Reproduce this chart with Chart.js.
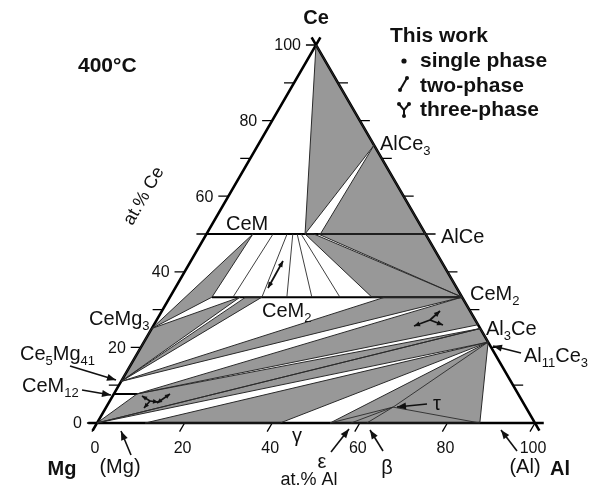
<!DOCTYPE html>
<html>
<head>
<meta charset="utf-8">
<script src="https://cdn.jsdelivr.net/npm/chart.js@4.4.1/dist/chart.umd.min.js"></script>
<style>
html, body { margin: 0; padding: 0; background: #fff; }
#wrap { width: 591px; height: 487px; position: relative; }
</style>
</head>
<body>
<div id="wrap"><canvas id="phase"></canvas></div>
<script>
// every point is [at.% Al, at.% Ce]; Mg is the balance

// three-phase fields (shaded)
const grayRegions = [
  [[0, 100], [26.5, 73.5], [22.5, 50]],
  [[26.5, 73.5], [26, 50], [50, 50]],
  [[22.5, 50], [24.5, 50], [66.7, 33.3], [46.1, 33.3]],
  [[25.5, 50], [50, 50], [66.7, 33.3]],
  [[0, 25], [10.6, 50], [9.6, 33.3]],
  [[0, 25], [16, 33.3], [0, 11]],
  [[0, 11], [17.3, 33.3], [21, 33.3]],
  [[0, 11], [49.1, 33.3], [66.7, 33.3]],
  [[5.3, 7.7], [66.7, 33.3], [74, 26]],
  [[0, 0], [5.3, 7.7], [75, 25]],
  [[0, 0], [75, 25], [78.6, 21.4]],
  [[11, 0], [41.8, 0], [78.6, 21.4]],
  [[53.2, 0], [87.4, 0], [78.6, 21.4]]
];

// line compounds CeM, CeM2, CeM12
const compoundLines = [
  [[0, 50], [50, 50]],
  [[9.6, 33.3], [66.7, 33.3]],
  [[0, 7.7], [5.3, 7.7]]
];

// tie lines in the CeM + CeM2 field and round tau
const tieLines = [
  [[15.2, 50], [14.4, 33.3]],
  [[18.4, 50], [21, 33.3]],
  [[19.7, 50], [26.7, 33.3]],
  [[20.7, 50], [32.4, 33.3]],
  [[21.6, 50], [38.8, 33.3]],
  [[65.5, 4.2], [53.2, 0]],
  [[65.5, 4.2], [58, 0]],
  [[65.5, 4.2], [61.6, 0]],
  [[65.5, 4.2], [87.4, 0]],
  [[65.5, 4.2], [78.6, 21.4]]
];

const ceTicks = [0, 10, 20, 30, 40, 50, 60, 70, 80, 90, 100];
const ceTickLabels = [0, 20, 40, 60, 80, 100];
const alTicks = [0, 20, 40, 60, 80, 100];
const alTickLabels = [0, 20, 40, 60, 80, 100];
const rightTicks = [10, 20, 30, 40, 50, 60, 70, 80, 90];

const FONT = '"Liberation Sans", Arial, sans-serif';

function pts(list) {
  return list.map(p => ({x: p[0] + p[1] / 2, y: p[1]}));
}
function joined(lists, close) {
  const out = [];
  lists.forEach(l => {
    out.push(...pts(close ? l.concat([l[0]]) : l), {x: NaN, y: NaN});
  });
  return out;
}

const frame = [
  [[-2, 0], [102, 0]],
  [[0, -2], [0, 102]],
  [[102, -2], [-2, 102]]
];
const tickSegs = [];
ceTicks.forEach(c => tickSegs.push([[0, c], [-2.3, c]]));
rightTicks.forEach(c => tickSegs.push([[100 - c, c], [102.3 - c, c]]));
alTicks.forEach(a => tickSegs.push([[a, 0], [a, -2.3]]));

function lineSet(label, data, color, width) {
  return {label, data, borderColor: color, borderWidth: width, showLine: true,
    pointRadius: 0, spanGaps: false, fill: false, tension: 0, clip: false};
}

// text labels, pixel placement
const plainLabels = [
  ['AlCe_3', 380, 150], ['AlCe', 441, 243], ['CeM', 226, 230],
  ['CeM_2', 262, 317], ['CeM_2', 470, 300], ['Al_3Ce', 486, 335],
  ['Al_11Ce_3', 524, 362], ['CeMg_3', 89, 325], ['Ce_5Mg_41', 20, 360],
  ['CeM_12', 22, 392]
];
const arrows = [
  [70, 366, 116, 380], [82, 390, 111, 395], [131, 455, 121, 431],
  [517, 451, 501, 430], [331, 452, 349, 429], [383, 451, 370, 430],
  [427, 404, 397, 407], [521, 353, 493, 346]
];

function drawRich(ctx, s, x, y, size) {
  const parts = s.split(/(_\d+)/).filter(Boolean);
  let cx = x;
  parts.forEach(p => {
    if (p[0] === '_') {
      ctx.font = Math.round(size * 0.65) + 'px ' + FONT;
      ctx.fillText(p.slice(1), cx, y + 5);
      cx += ctx.measureText(p.slice(1)).width;
    } else {
      ctx.font = size + 'px ' + FONT;
      ctx.fillText(p, cx, y);
      cx += ctx.measureText(p).width;
    }
  });
}
function arrowHead(ctx, x1, y1, x2, y2, len, w) {
  const ang = Math.atan2(y2 - y1, x2 - x1);
  ctx.beginPath();
  ctx.moveTo(x2, y2);
  ctx.lineTo(x2 - len * Math.cos(ang) + w * Math.sin(ang), y2 - len * Math.sin(ang) - w * Math.cos(ang));
  ctx.lineTo(x2 - len * Math.cos(ang) - w * Math.sin(ang), y2 - len * Math.sin(ang) + w * Math.cos(ang));
  ctx.closePath();
  ctx.fill();
}
function arrow(ctx, x1, y1, x2, y2, lw, len, w, both) {
  ctx.lineWidth = lw;
  ctx.beginPath(); ctx.moveTo(x1, y1); ctx.lineTo(x2, y2); ctx.stroke();
  arrowHead(ctx, x1, y1, x2, y2, len, w);
  if (both) arrowHead(ctx, x2, y2, x1, y1, len, w);
}

const shadePlugin = {
  id: 'shade',
  beforeDatasetsDraw(chart) {
    const {ctx, scales: {x, y}} = chart;
    ctx.save();
    ctx.fillStyle = '#989898';
    grayRegions.forEach(poly => {
      ctx.beginPath();
      pts(poly).forEach((p, i) => {
        const px = x.getPixelForValue(p.x), py = y.getPixelForValue(p.y);
        if (i) ctx.lineTo(px, py); else ctx.moveTo(px, py);
      });
      ctx.closePath();
      ctx.fill();
    });
    ctx.restore();
  }
};

const textPlugin = {
  id: 'texts',
  afterDatasetsDraw(chart) {
    const {ctx, scales: {x, y}} = chart;
    ctx.save();
    ctx.fillStyle = '#111';
    ctx.strokeStyle = '#111';

    // axis numbers
    ctx.font = '16px ' + FONT;
    ctx.textAlign = 'right';
    ctx.textBaseline = 'middle';
    ceTickLabels.forEach(c => {
      const p = pts([[0, c]])[0];
      ctx.fillText(String(c), x.getPixelForValue(p.x) - 15, y.getPixelForValue(p.y) + 1);
    });
    ctx.textAlign = 'center';
    ctx.textBaseline = 'alphabetic';
    alTickLabels.forEach(a => {
      ctx.fillText(String(a), x.getPixelForValue(a) - 2, y.getPixelForValue(0) + 30);
    });

    // axis titles
    ctx.font = '18px ' + FONT;
    ctx.fillText('at.% Al', 309, 485);
    ctx.save();
    ctx.translate(144, 196);
    ctx.rotate(-Math.PI / 3);
    ctx.textBaseline = 'middle';
    ctx.fillText('at.% Ce', 0, 0);
    ctx.restore();

    // corners and title
    ctx.font = 'bold 20px ' + FONT;
    ctx.fillText('Ce', 316, 24);
    ctx.fillText('Mg', 62, 475);
    ctx.fillText('Al', 560, 475);
    ctx.textAlign = 'left';
    ctx.font = 'bold 21px ' + FONT;
    ctx.fillText('400°C', 78, 72);

    // legend
    ctx.fillText('This work', 390, 42);
    ctx.fillText('single phase', 420, 67);
    ctx.fillText('two-phase', 420, 92);
    ctx.fillText('three-phase', 420, 116);
    ctx.beginPath(); ctx.arc(404, 61, 2.6, 0, Math.PI * 2); ctx.fill();
    ctx.lineWidth = 2;
    ctx.beginPath(); ctx.moveTo(400, 90); ctx.lineTo(407, 78); ctx.stroke();
    [[400, 90], [407, 78]].forEach(q => { ctx.beginPath(); ctx.arc(q[0], q[1], 2, 0, Math.PI * 2); ctx.fill(); });
    ctx.beginPath();
    ctx.moveTo(399, 104); ctx.lineTo(404, 110); ctx.lineTo(409, 104);
    ctx.moveTo(404, 110); ctx.lineTo(404, 116);
    ctx.stroke();
    [[399, 104], [409, 104], [404, 116]].forEach(q => { ctx.beginPath(); ctx.arc(q[0], q[1], 2, 0, Math.PI * 2); ctx.fill(); });

    // phase labels
    plainLabels.forEach(l => drawRich(ctx, l[0], l[1], l[2], 20));
    ctx.textAlign = 'center';
    ctx.font = '20px ' + FONT;
    ctx.fillText('τ', 437, 410);
    ctx.fillText('γ', 297, 442);
    ctx.fillText('ε', 322, 468);
    ctx.fillText('β', 387, 474);
    ctx.fillText('(Mg)', 120, 473);
    ctx.fillText('(Al)', 525, 473);

    // pointers
    arrows.forEach(a => arrow(ctx, a[0], a[1], a[2], a[3], 1.6, 9, 3.5, false));

    // sample markers
    arrow(ctx, 268, 288, 283, 261, 1.8, 6, 2.6, true);
    arrow(ctx, 430, 320, 414, 326, 1.8, 6, 2.6, false);
    arrow(ctx, 430, 320, 440, 311, 1.8, 6, 2.6, false);
    arrow(ctx, 430, 320, 443, 325, 1.8, 6, 2.6, false);
    arrow(ctx, 150, 401, 142, 396, 1.6, 5, 2.3, false);
    arrow(ctx, 150, 401, 144, 408, 1.6, 5, 2.3, false);
    arrow(ctx, 150, 401, 158, 402, 1.6, 5, 2.3, false);
    arrow(ctx, 157, 403, 170, 394, 1.6, 5, 2.3, true);
    ctx.restore();
  }
};

new Chart(document.getElementById('phase'), {
  type: 'scatter',
  data: {
    datasets: [
      lineSet('field edges', joined(grayRegions, true), '#2a2a2a', 1),
      lineSet('tie lines', joined(tieLines, false), '#2a2a2a', 0.9),
      lineSet('compounds', joined(compoundLines, false), '#000', 2),
      lineSet('ticks', joined(tickSegs, false), '#000', 1.3),
      lineSet('frame', joined(frame, false), '#000', 2.6)
    ]
  },
  options: {
    responsive: true,
    maintainAspectRatio: false,
    animation: false,
    events: [],
    layout: {padding: 0},
    scales: {
      x: {type: 'linear', min: -22.146, max: 112.785, display: false},
      y: {type: 'linear', min: -16.931, max: 111.905, display: false}
    },
    plugins: {
      legend: {display: false},
      tooltip: {enabled: false}
    }
  },
  plugins: [shadePlugin, textPlugin]
});
</script>
</body>
</html>
